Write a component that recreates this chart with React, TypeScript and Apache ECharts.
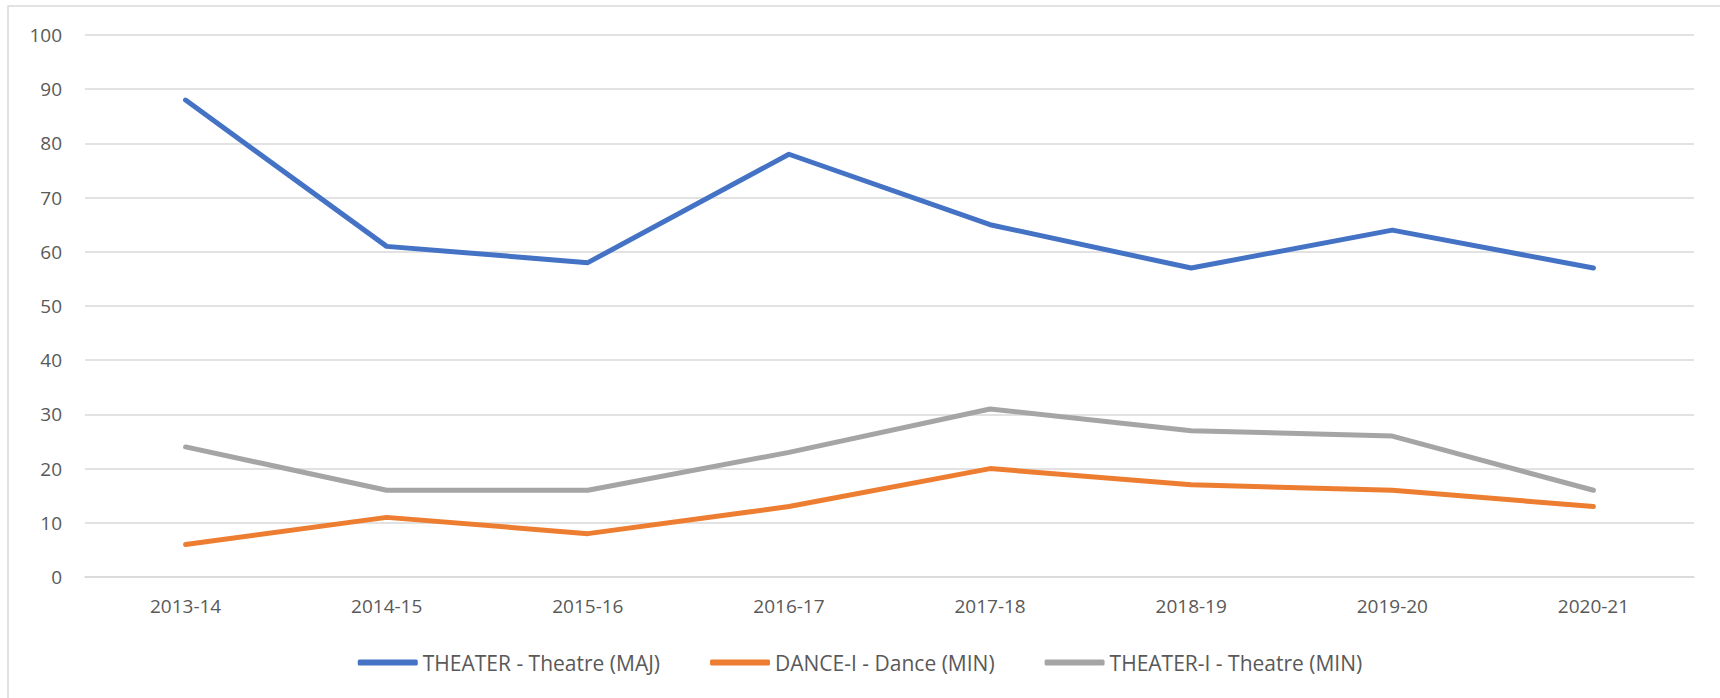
import React, { useEffect, useRef } from "react";
import * as echarts from "echarts";

const categories = ["2013-14", "2014-15", "2015-16", "2016-17", "2017-18", "2018-19", "2019-20", "2020-21"];
const theatreMaj = [88, 61, 58, 78, 65, 57, 64, 57];
const danceMin = [6, 11, 8, 13, 20, 17, 16, 13];
const theatreMin = [24, 16, 16, 23, 31, 27, 26, 16];
const seriesNames = ["THEATER - Theatre (MAJ)", "DANCE-I - Dance (MIN)", "THEATER-I - Theatre (MIN)"];
const colors = ["#4472C4", "#ED7D31", "#A5A5A5"];

export default function App() {
  const ref = useRef<HTMLDivElement>(null);
  useEffect(() => {
    document.body.style.margin = "0";
    const chart = echarts.init(ref.current!, null, { renderer: "svg" });
    const font = "'Open Sans', 'Noto Sans', sans-serif";
    const mk = (name: string, data: number[], color: string) => ({
      name,
      type: "line",
      data,
      symbol: "none",
      lineStyle: { color, width: 5, cap: "round", join: "round" },
      itemStyle: { color },
    });
    chart.setOption({
      animation: false,
      backgroundColor: "#ffffff",
      textStyle: { fontFamily: font },
      graphic: [
        {
          type: "rect",
          shape: { x: 8, y: 6, width: 1730, height: 720 },
          style: { fill: "none", stroke: "#D9D9D9", lineWidth: 1.5 },
          silent: true,
        },
      ],
      grid: { left: 85, right: 26, top: 35, bottom: 121, containLabel: false },
      xAxis: {
        type: "category",
        data: categories,
        boundaryGap: true,
        axisLine: { show: true, lineStyle: { color: "#D9D9D9", width: 1.5 } },
        axisTick: { show: false },
        axisLabel: { color: "#595959", fontSize: 19, margin: 19, fontFamily: font },
      },
      yAxis: {
        type: "value",
        min: 0,
        max: 100,
        interval: 10,
        axisLine: { show: false },
        axisTick: { show: false },
        splitLine: { lineStyle: { color: "#D9D9D9", width: 1.5 } },
        axisLabel: { color: "#595959", fontSize: 19, margin: 23, fontFamily: font },
      },
      legend: {
        data: seriesNames,
        left: "center",
        top: 647,
        icon: "roundRect",
        itemWidth: 60,
        itemHeight: 6,
        itemGap: 50,
        textStyle: { color: "#595959", fontSize: 21, fontFamily: font },
      },
      series: [
        mk(seriesNames[0], theatreMaj, colors[0]),
        mk(seriesNames[1], danceMin, colors[1]),
        mk(seriesNames[2], theatreMin, colors[2]),
      ],
    });
    return () => chart.dispose();
  }, []);
  return <div ref={ref} style={{ width: 1720, height: 698 }} />;
}
